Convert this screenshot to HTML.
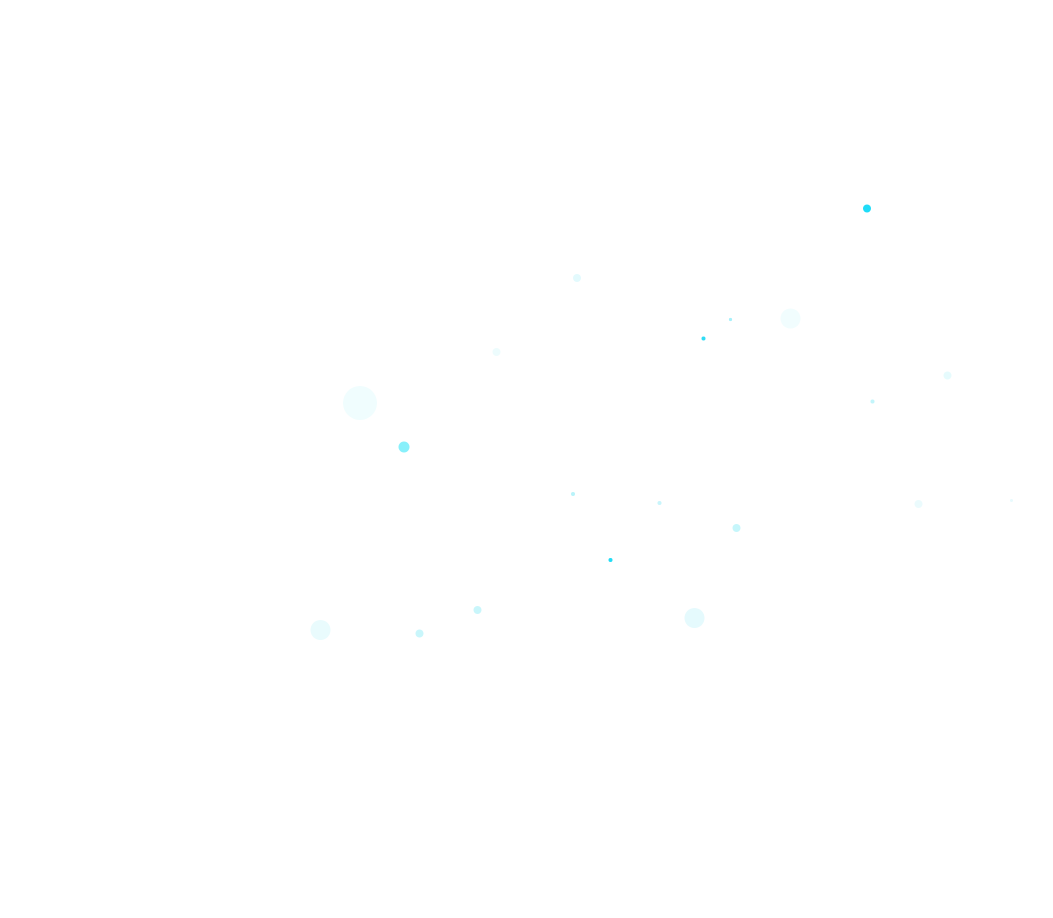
<!DOCTYPE html>
<html><head><meta charset="utf-8"><style>html,body{margin:0;padding:0;background:#fff;width:1053px;height:918px;overflow:hidden}</style></head>
<body>
<svg width="1053" height="918" xmlns="http://www.w3.org/2000/svg">
<rect width="1053" height="918" fill="#fff"/>
<circle cx="867" cy="208.5" r="4" fill="#1fdcf8"/>
<circle cx="577" cy="278" r="4" fill="#e3fafd"/>
<circle cx="730.5" cy="319.5" r="1.6" fill="#a6f0fa"/>
<circle cx="703.5" cy="338.5" r="2" fill="#2fdcf5"/>
<circle cx="790.5" cy="318.5" r="10" fill="#f1fdfe"/>
<circle cx="496.5" cy="352" r="4" fill="#edfcfd"/>
<circle cx="947.5" cy="375.5" r="4" fill="#e6fbfd"/>
<circle cx="872.5" cy="401.5" r="2" fill="#c3f5fb"/>
<circle cx="360" cy="403" r="17" fill="#f0fdfe"/>
<circle cx="404" cy="447" r="5.5" fill="#88f0fb"/>
<circle cx="573" cy="494" r="2" fill="#b9f3fa"/>
<circle cx="659.5" cy="503" r="2" fill="#c8f5fb"/>
<circle cx="918.5" cy="504" r="4" fill="#ebfbfd"/>
<circle cx="1011.5" cy="500.5" r="1.5" fill="#e8fafd"/>
<circle cx="736.5" cy="528" r="4" fill="#c6f6fb"/>
<circle cx="610.5" cy="560" r="2" fill="#22dcf5"/>
<circle cx="477.5" cy="610" r="4" fill="#c9f6fb"/>
<circle cx="320.5" cy="630" r="10" fill="#e9fbfd"/>
<circle cx="419.5" cy="633.5" r="4" fill="#c9f6fb"/>
<circle cx="694.5" cy="618" r="10" fill="#e5fafd"/>
</svg>
</body></html>
